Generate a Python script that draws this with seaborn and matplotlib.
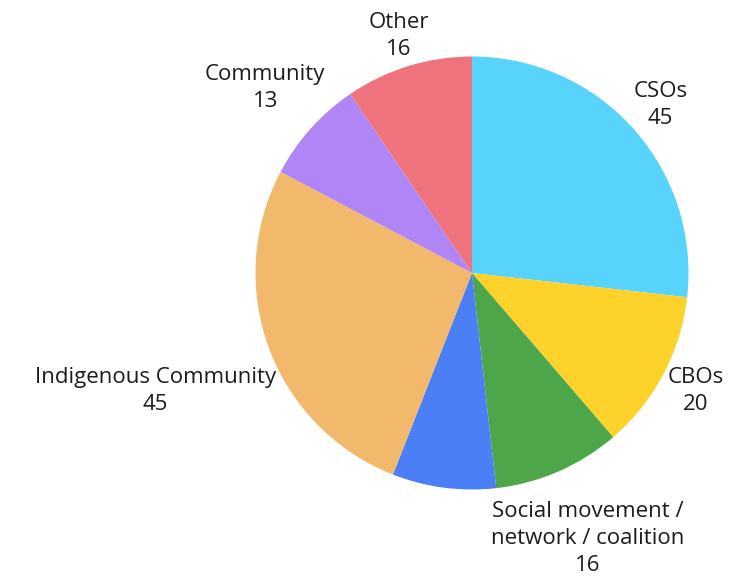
import matplotlib
matplotlib.use("Agg")
import matplotlib.pyplot as plt
import seaborn as sns
import numpy as np

# Respondents by organisation type
categories = [
    "CSOs",
    "CBOs",
    "Social movement /\nnetwork / coalition",
    "",
    "Indigenous Community",
    "Community",
    "Other",
]
counts = [45, 20, 16, 13, 45, 13, 16]
slice_colors = ["#58D3FC", "#FDD22A", "#4DA64A", "#4A7FF5", "#F2B86C", "#B085F5", "#EF737C"]

sns.set_theme(style="white")
plt.rcParams["font.family"] = ["Open Sans", "DejaVu Sans"]

W, H, DPI = 736, 585, 100
fig = plt.figure(figsize=(W / DPI, H / DPI), dpi=DPI)
ax = fig.add_axes([0, 0, 1, 1])

palette = sns.color_palette(slice_colors)
wedges, _ = ax.pie(
    counts,
    colors=palette,
    startangle=90,
    counterclock=False,
    radius=1.0,
    wedgeprops=dict(linewidth=0),
)

# pie centre and radius in pixels
cx, cy, R = 472.0, 273.0, 216.5
ax.set_xlim(-cx / R, (W - cx) / R)
ax.set_ylim(-(H - cy) / R, cy / R)
ax.set_aspect("equal")
ax.axis("off")

# labels: name on top, value below, centred on the slice's mid-angle,
# pushed out until the text box just clears the rim
texts = []
for w, name, val in zip(wedges, categories, counts):
    if not name:
        continue
    mid = np.deg2rad((w.theta1 + w.theta2) / 2.0)
    t = ax.text(
        np.cos(mid) * 1.2, np.sin(mid) * 1.2, f"{name}\n{val}",
        ha="center", va="center", multialignment="center",
        fontsize=16, color="#1c1c1c", linespacing=1.38,
    )
    texts.append((t, mid))

fig.canvas.draw()
renderer = fig.canvas.get_renderer()
gap = 0.0
for t, mid in texts:
    bb = t.get_window_extent(renderer=renderer)
    hw = bb.width / 2.0 / R
    hh = bb.height / 2.0 / R
    d = 1.0 + gap + hw * abs(np.cos(mid)) + hh * abs(np.sin(mid))
    x, y = np.cos(mid) * d, np.sin(mid) * d
    # keep the whole text box inside the figure
    ylo, yhi = ax.get_ylim()
    y = min(max(y, ylo + hh + 0.01), yhi - hh - 0.01)
    t.set_position((x, y))

fig.savefig("out.png", dpi=DPI, facecolor="white")
